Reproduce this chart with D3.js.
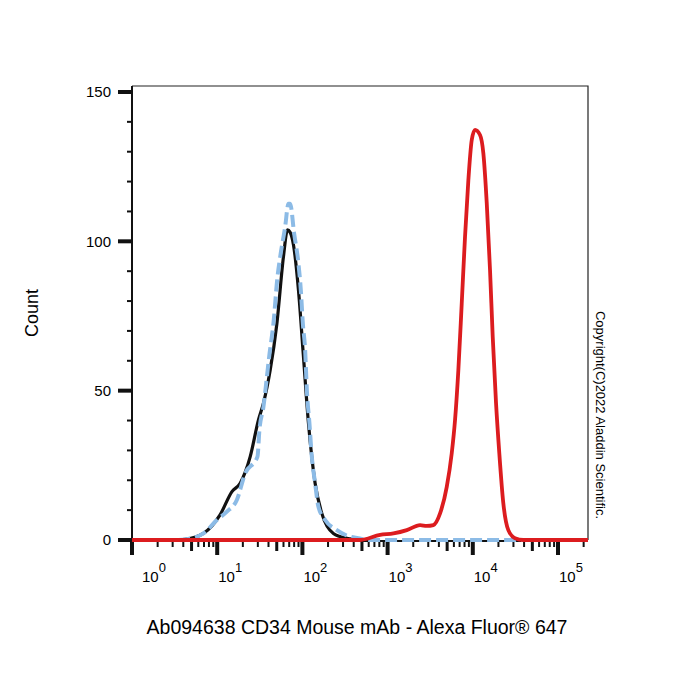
<!DOCTYPE html>
<html>
<head>
<meta charset="utf-8">
<script src="https://cdn.jsdelivr.net/npm/d3@7"></script>
<style>
  body { margin: 0; background: #fff; }
  svg text { font-family: "Liberation Sans", Arial, sans-serif; fill: #000; }
</style>
</head>
<body>
<svg id="chart" width="700" height="700"></svg>
<script>
// fluorescence intensity (x) and count (y)
const isotype = [
  [3.5, 0], [4.2, 0.2], [6.9, 2.2], [10.8, 8.4], [14.9, 16.2], [18.6, 19.0],
  [24.4, 27.9], [30.5, 40.2], [34.9, 45.8], [41.9, 56.9], [50.2, 72.5],
  [59.9, 94.8], [66.8, 103.8], [71.8, 103], [78.6, 98.8], [89.9, 83.7],
  [102.9, 61.4], [117.8, 39.1], [141, 19.0], [169, 8.9], [231, 2.2],
  [332, 0.6], [435, 0.2], [500, 0]
];

const unstained = [
  [3.5, 0], [4.2, 0.2], [6.9, 2.2], [9.9, 6.7], [13.0, 9.5], [17.0, 13.4],
  [21.3, 22.3], [29.7, 27.9], [31.3, 36.8], [34.9, 44.6], [38.3, 54.6],
  [40.7, 61.3], [45.7, 72.5], [51.0, 88.1], [54.8, 94.7], [62.7, 104.8],
  [68.6, 112.6], [71.8, 112.6], [80.0, 102.6], [89.9, 92.5], [95.9, 83.6],
  [101.2, 72.5], [107.7, 63.6], [112.8, 50.2], [121, 39.0], [129, 27.9],
  [141, 19.0], [154, 11.2], [185, 6.7], [254, 3.3], [363, 1.1], [454, 0.6],
  [600, 0], [40000, 0]
];

const cd34 = [
  [1, 0], [476, 0], [817, 1.7], [1171, 2.2], [1680, 3.3], [2406, 5.0],
  [2882, 4.7], [3447, 5.0], [4129, 8.9], [4947, 17.8], [5659, 29.0],
  [6190, 40.2], [6768, 56.9], [7416, 79.2], [8107, 101.6], [8870, 120.5],
  [9720, 133.9], [10620, 137.3], [12160, 135.6], [13300, 129.5],
  [14580, 112.8], [15930, 90.4], [17130, 68.1], [18740, 45.8], [20480, 29.0],
  [22820, 12.3], [26120, 3.3], [31330, 0.6], [39180, 0], [225000, 0]
];

const yMajor = [0, 50, 100, 150];
const yMinor = d3.range(10, 150, 10).filter((d) => d % 50 !== 0);
const xDecades = [1, 10, 100, 1000, 10000, 100000];

const xTitle = 'Ab094638 CD34 Mouse mAb - Alexa Fluor® 647';
const yTitle = 'Count';
const copyright = 'Copyright(C)2022 Aladdin Scientific.';

const svg = d3.select('#chart');

const x = d3.scaleLog().domain([1, 225000]).range([132, 588]);
const y = d3.scaleLinear().domain([0, 152]).range([540, 86]);

// minor ticks 2..9 in each decade
const xMinor = [];
xDecades.forEach((d) => {
  for (let k = 2; k <= 9; k++) {
    if (d * k <= x.domain()[1]) xMinor.push(d * k);
  }
});

// frame
svg.append('path')
  .attr('d', `M${x.range()[0]},${y.range()[1]}H${x.range()[1]}V${y(0)}`)
  .attr('fill', 'none')
  .attr('stroke', '#222')
  .attr('stroke-width', 1.2);

svg.append('line')
  .attr('x1', 132).attr('x2', 132)
  .attr('y1', y.range()[1]).attr('y2', 541)
  .attr('stroke', '#111').attr('stroke-width', 2);

svg.append('line')
  .attr('x1', 132).attr('x2', 588)
  .attr('y1', 541).attr('y2', 541)
  .attr('stroke', '#111').attr('stroke-width', 2);

// y ticks
svg.append('g').selectAll('line')
  .data(yMajor)
  .join('line')
  .attr('x1', 118).attr('x2', 132)
  .attr('y1', (d) => y(d)).attr('y2', (d) => y(d))
  .attr('stroke', '#111').attr('stroke-width', 4);

svg.append('g').selectAll('line')
  .data(yMinor)
  .join('line')
  .attr('x1', 127).attr('x2', 132)
  .attr('y1', (d) => y(d)).attr('y2', (d) => y(d))
  .attr('stroke', '#111').attr('stroke-width', 2);

svg.append('g').selectAll('text')
  .data(yMajor)
  .join('text')
  .attr('x', 111)
  .attr('y', (d) => y(d))
  .attr('dy', '0.35em')
  .attr('text-anchor', 'end')
  .attr('font-size', 15)
  .text((d) => d);

// x ticks
svg.append('g').selectAll('line')
  .data(xDecades)
  .join('line')
  .attr('x1', (d) => x(d)).attr('x2', (d) => x(d))
  .attr('y1', 541).attr('y2', 555)
  .attr('stroke', '#111').attr('stroke-width', 4);

svg.append('g').selectAll('line')
  .data(xMinor)
  .join('line')
  .attr('x1', (d) => x(d)).attr('x2', (d) => x(d))
  .attr('y1', 541)
  .attr('y2', (d) => (String(d)[0] === '5' ? 551 : 547))
  .attr('stroke', '#111')
  .attr('stroke-width', (d) => (String(d)[0] === '5' ? 3 : 2));

const xl = svg.append('g').selectAll('text')
  .data(xDecades)
  .join('text')
  .attr('x', (d) => x(d) + (d === 1 ? 10 : 1))
  .attr('y', 582)
  .attr('font-size', 15);
xl.append('tspan').text('10');
xl.append('tspan')
  .attr('font-size', 13)
  .attr('dy', -10)
  .text((d) => Math.round(Math.log10(d)));

// curves
const line = d3.line()
  .x((d) => x(d[0]))
  .y((d) => y(d[1]))
  .curve(d3.curveMonotoneX);

svg.append('path')
  .datum(isotype)
  .attr('d', line)
  .attr('fill', 'none')
  .attr('stroke', '#111')
  .attr('stroke-width', 3.2);

svg.append('path')
  .datum(unstained)
  .attr('d', line)
  .attr('fill', 'none')
  .attr('stroke', '#8cbbe6')
  .attr('stroke-width', 4)
  .attr('stroke-dasharray', '12,5');

svg.append('path')
  .datum(cd34)
  .attr('d', line)
  .attr('fill', 'none')
  .attr('stroke', '#dc1c1f')
  .attr('stroke-width', 3.8);

// titles
svg.append('text')
  .attr('transform', 'translate(38,313) rotate(-90)')
  .attr('text-anchor', 'middle')
  .attr('font-size', 18)
  .text(yTitle);

svg.append('text')
  .attr('x', 357)
  .attr('y', 634)
  .attr('text-anchor', 'middle')
  .attr('font-size', 19.5)
  .text(xTitle);

svg.append('text')
  .attr('transform', 'translate(596,415) rotate(90)')
  .attr('text-anchor', 'middle')
  .attr('font-size', 13)
  .text(copyright);
</script>
</body>
</html>
